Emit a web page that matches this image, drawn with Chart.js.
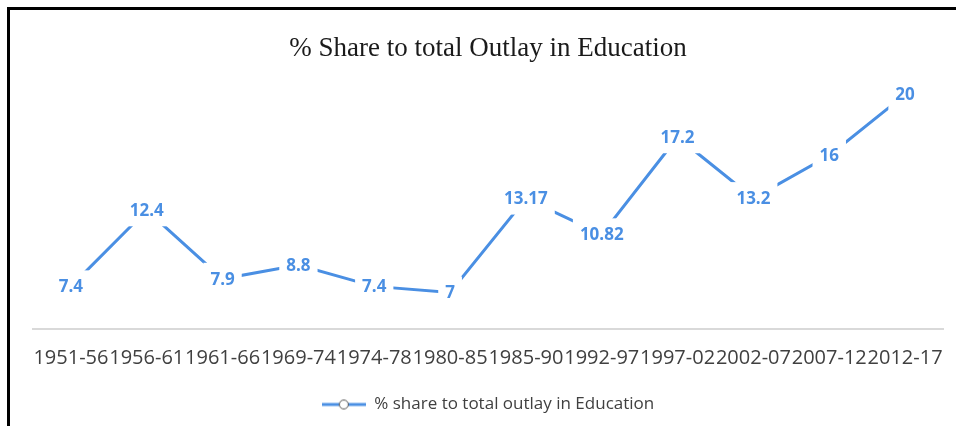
<!DOCTYPE html>
<html>
<head>
<meta charset="utf-8">
<script src="https://cdn.jsdelivr.net/npm/chart.js@4"></script>
<style>
  html, body { margin: 0; padding: 0; background: #fff; }
  #wrap { position: relative; width: 956px; height: 426px; overflow: hidden; }
  #c { position: absolute; left: 0; top: 0; }
  #frame { position: absolute; left: 7px; top: 7px; width: 960px; height: 430px;
           border-top: 3px solid #000; border-left: 3px solid #000; pointer-events: none; }
</style>
</head>
<body>
<div id="wrap">
  <canvas id="c" width="956" height="426"></canvas>
  <div id="frame"></div>
</div>
<script>
const categories = ["1951-56","1956-61","1961-66","1969-74","1974-78","1980-85","1985-90","1992-97","1997-02","2002-07","2007-12","2012-17"];
const shareValues = [7.4, 12.4, 7.9, 8.8, 7.4, 7, 13.17, 10.82, 17.2, 13.2, 16, 20];
const seriesName = "% share to total outlay in Education";
const chartTitle = "% Share to total Outlay in Education";

const BLUE = '#4a8fe3';
const TEXT = '#404040';

// legend marker: line with hollow circle
const marker = document.createElement('canvas');
marker.width = 44; marker.height = 14;
(function () {
  const m = marker.getContext('2d');
  m.strokeStyle = BLUE; m.lineWidth = 3;
  m.beginPath(); m.moveTo(0, 7); m.lineTo(44, 7); m.stroke();
  m.beginPath(); m.arc(22, 7, 4.5, 0, Math.PI * 2);
  m.fillStyle = '#fff'; m.fill();
  m.strokeStyle = '#555'; m.lineWidth = 1; m.stroke();
})();

const dataLabels = {
  id: 'dataLabels',
  afterDatasetsDraw(chart) {
    const ctx = chart.ctx;
    const meta = chart.getDatasetMeta(0);
    const ds = chart.data.datasets[0];
    ctx.save();
    ctx.font = 'bold 17px "Open Sans"';
    ctx.textAlign = 'center';
    ctx.textBaseline = 'middle';
    meta.data.forEach((pt, i) => {
      const txt = String(ds.data[i]);
      const w = ctx.measureText(txt).width;
      ctx.fillStyle = '#fff';
      ctx.fillRect(pt.x - w / 2 - 7, pt.y - 16, w + 14, 32);
      ctx.fillStyle = BLUE;
      ctx.fillText(txt, pt.x, pt.y + 1);
    });
    ctx.restore();
  }
};

new Chart(document.getElementById('c'), {
  type: 'line',
  data: {
    labels: categories,
    datasets: [{
      label: seriesName,
      data: shareValues,
      borderColor: BLUE,
      backgroundColor: '#fff',
      borderWidth: 3,
      pointRadius: 0,
      pointStyle: marker,
      tension: 0,
      fill: false
    }]
  },
  options: {
    responsive: false,
    animation: false,
    layout: { padding: { left: 33, right: 13, top: 0, bottom: 3 } },
    plugins: {
      title: {
        display: true,
        text: chartTitle,
        color: '#1a1a1a',
        font: { family: '"Liberation Serif", serif', size: 27, weight: 'normal' },
        padding: { top: 33, bottom: 14 }
      },
      legend: {
        display: true,
        position: 'bottom',
        labels: {
          usePointStyle: true,
          pointStyleWidth: 44,
          color: TEXT,
          font: { family: '"Open Sans"', size: 17 },
          padding: 10,
          generateLabels(chart) {
            return [{ text: seriesName, pointStyle: marker, fillStyle: '#fff', strokeStyle: BLUE, lineWidth: 0, fontColor: TEXT, datasetIndex: 0 }];
          }
        }
      },
      tooltip: { enabled: false }
    },
    scales: {
      x: {
        offset: true,
        grid: { display: false, offset: true },
        border: { display: true, color: '#d9d9d9', width: 2 },
        ticks: {
          autoSkip: false, maxRotation: 0, minRotation: 0,
          color: TEXT, padding: 9,
          font: { family: '"Open Sans"', size: 20 }
        },
        afterFit(scale) { scale.height += 7; }
      },
      y: { display: false, min: 4.6, max: 21 }
    }
  },
  plugins: [dataLabels]
});
</script>
</body>
</html>
